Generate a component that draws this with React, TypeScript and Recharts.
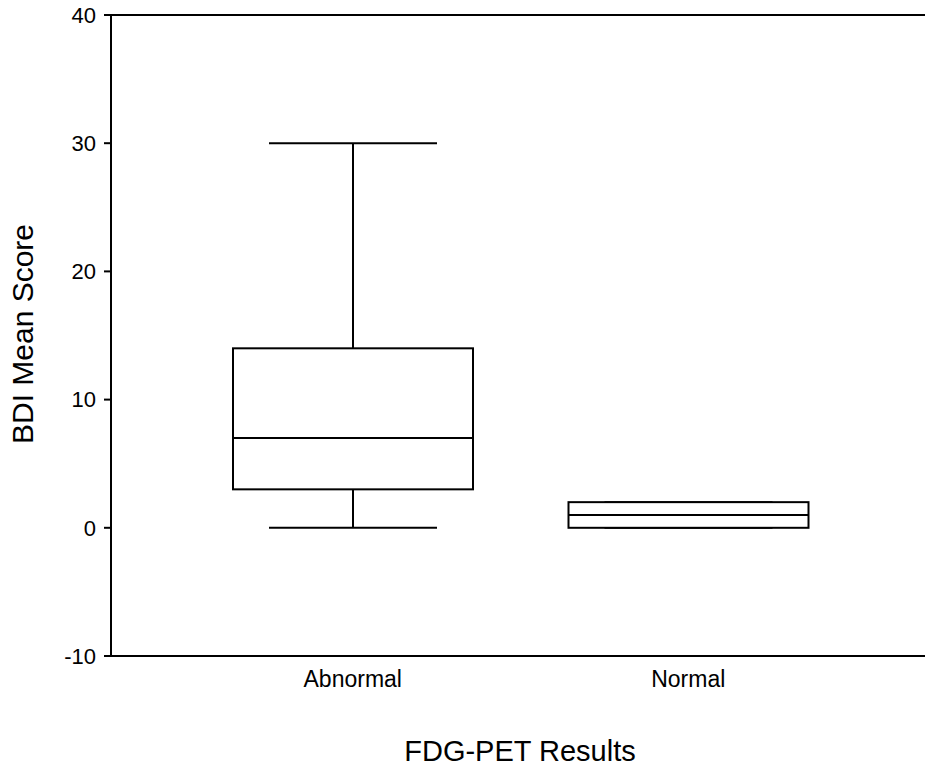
import { BarChart, Bar, XAxis, YAxis, ReferenceLine } from 'recharts';

const categories = ['Abnormal', 'Normal'];
const minValues = [0, 0];
const q1Values = [3, 0];
const medianValues = [7, 1];
const q3Values = [14, 2];
const maxValues = [30, 2];
const yTicks = [-10, 0, 10, 20, 30, 40];

const FONT = '"Liberation Sans", Arial, sans-serif';

const rows = categories.map((name, i) => ({
  name,
  min: minValues[i],
  q1: q1Values[i],
  median: medianValues[i],
  q3: q3Values[i],
  max: maxValues[i],
  range: [minValues[i], maxValues[i]],
}));

// draws the whole box-and-whisker inside the [min, max] bar rectangle that recharts lays out
function BoxShape(props: any) {
  const { x, y, width, height, payload } = props;
  const top = Math.min(y, y + height);
  const bottom = Math.max(y, y + height);
  const { min, q1, median, q3, max } = payload;
  const py = (v: number) => bottom - ((v - min) / (max - min)) * (bottom - top);
  const cx = x + width / 2;
  const capHalf = width * 0.35;
  const st = { stroke: '#000', strokeWidth: 2, fill: 'none' };
  return (
    <g>
      <line x1={cx} x2={cx} y1={py(max)} y2={py(q3)} {...st} />
      <line x1={cx} x2={cx} y1={py(q1)} y2={py(min)} {...st} />
      <line x1={cx - capHalf} x2={cx + capHalf} y1={py(max)} y2={py(max)} {...st} />
      <line x1={cx - capHalf} x2={cx + capHalf} y1={py(min)} y2={py(min)} {...st} />
      <rect x={x} y={py(q3)} width={width} height={py(q1) - py(q3)} {...st} fill="#fff" />
      <line x1={x} x2={x + width} y1={py(median)} y2={py(median)} {...st} />
    </g>
  );
}

export default function App() {
  return (
    <div style={{ position: 'absolute', left: 0, top: 0, background: '#fff' }}>
      <BarChart width={925} height={770} data={rows} margin={{ top: 15, right: 0, bottom: 0, left: 0 }}>
        <XAxis
          dataKey="name"
          height={114}
          padding={{ left: 74, right: 69 }}
          axisLine={{ stroke: '#000', strokeWidth: 2 }}
          tickLine={false}
          tickSize={0}
          tickMargin={0}
          tick={(p: any) => (
            <text x={p.x} y={p.y + 31} textAnchor="middle" fontSize={23} fontFamily={FONT} fill="#000">
              {p.payload.value}
            </text>
          )}
          label={() => (
            <text x={520} y={761} textAnchor="middle" fontSize={29} fontFamily={FONT} fill="#000">
              FDG-PET Results
            </text>
          )}
        />
        <YAxis
          type="number"
          domain={[-10, 40]}
          ticks={yTicks}
          width={111}
          axisLine={{ stroke: '#000', strokeWidth: 2 }}
          tickLine={{ stroke: '#000', strokeWidth: 2 }}
          tickSize={7}
          tickMargin={8}
          tick={{ fontSize: 22, fontFamily: FONT, fill: '#000' }}
          label={() => (
            <text x={33} y={334} transform="rotate(-90 33 334)" textAnchor="middle" fontSize={30} fontFamily={FONT} fill="#000">
              BDI Mean Score
            </text>
          )}
        />
        <ReferenceLine y={40} stroke="#000" strokeWidth={2} />
        <Bar dataKey="range" barSize={240} shape={BoxShape} isAnimationActive={false} />
      </BarChart>
    </div>
  );
}
